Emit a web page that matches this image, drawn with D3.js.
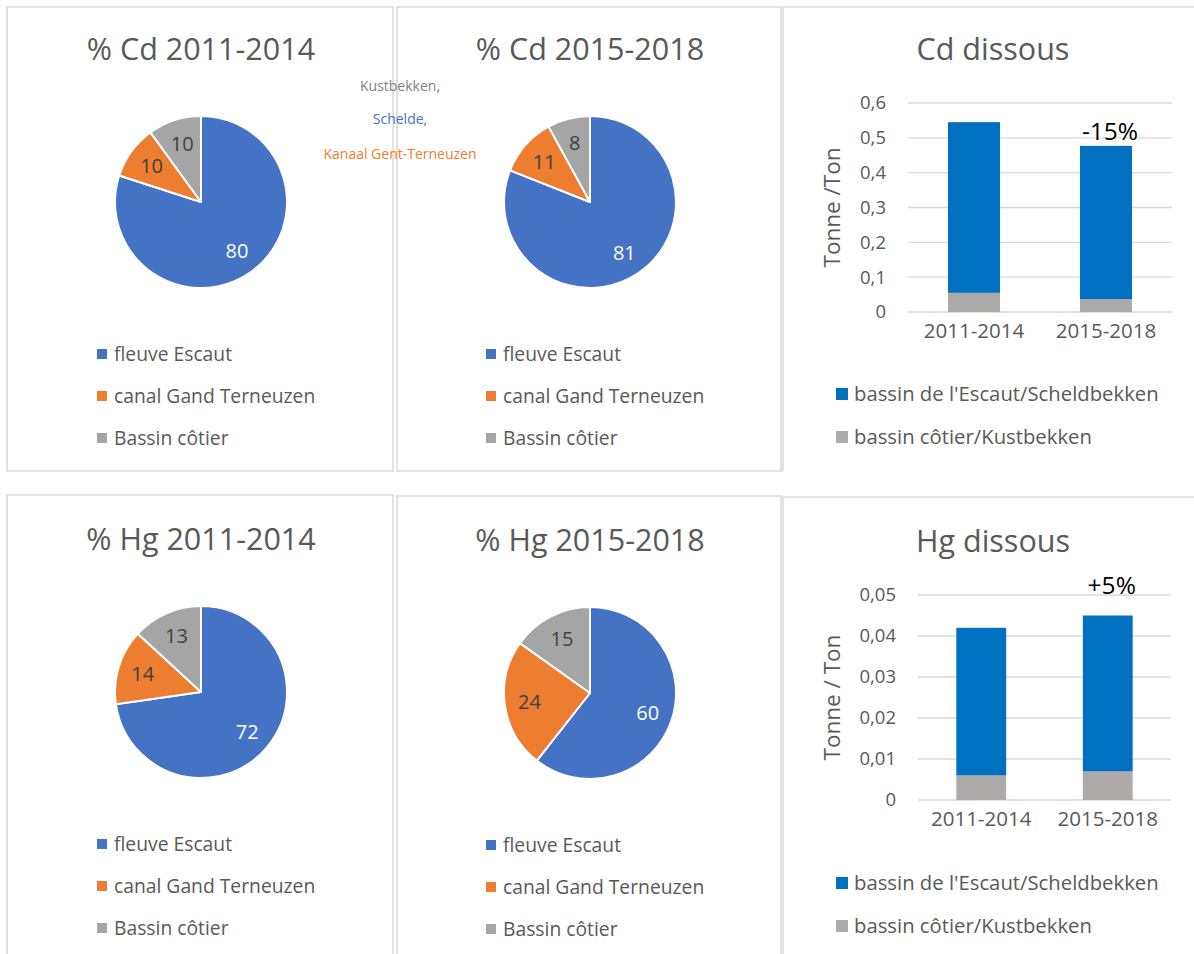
<!DOCTYPE html>
<html>
<head>
<meta charset="utf-8">
<script src="https://cdn.jsdelivr.net/npm/d3@7"></script>
<style>
  body { margin: 0; background: #fff; }
  text { font-family: "Open Sans", "Noto Sans", sans-serif; }
</style>
</head>
<body>
<svg id="chart" width="1194" height="954"></svg>
<script>
// pie data (percent)
const pieLegend = ['fleuve Escaut', 'canal Gand Terneuzen', 'Bassin côtier'];
const cd2011 = [80, 10, 10];
const cd2015 = [81, 11, 8];
const hg2011 = [72, 14, 13];
const hg2015 = [60, 24, 15];
const floatLabels = ['Kustbekken', 'Schelde', 'Kanaal Gent-Terneuzen'];

// bar data (tonnes)
const periods = ['2011-2014', '2015-2018'];
const barLegend = ["bassin de l'Escaut/Scheldbekken", 'bassin côtier/Kustbekken'];
const cdEscaut = [0.49, 0.44];
const cdCotier = [0.055, 0.037];
const hgEscaut = [0.036, 0.038];
const hgCotier = [0.006, 0.007];
const cdTicks = [0, 0.1, 0.2, 0.3, 0.4, 0.5, 0.6];
const hgTicks = [0, 0.01, 0.02, 0.03, 0.04, 0.05];
const cdChange = ['', '-15%'];
const hgChange = ['', '+5%'];

const pieColors = ['#4472c4', '#ed7d31', '#a5a5a5'];
const barColors = ['#0070c0', '#aeaaaa'];
const textGrey = '#595959';

const svg = d3.select('#chart');
const fmt = d => String(d).replace('.', ',');

// panel frames (the right-hand ones run off the picture)
const frames = [
  'M7,7H393V471H7Z',
  'M397,7H781V471H397Z',
  'M783,471V7H1200',
  'M7,960V495H393V960',
  'M397,960V496H781V960',
  'M783,960V497H1200'
];
svg.append('g').selectAll('path').data(frames).enter().append('path')
  .attr('d', d => d)
  .attr('fill', 'none').attr('stroke', '#d9d9d9').attr('stroke-width', 1.5);

function drawPie(title, values, cx, cy) {
  const r = 86;
  const g = svg.append('g');

  g.append('text').attr('x', cx).attr('y', cy - 142)
    .attr('text-anchor', 'middle').attr('font-size', 30.5).attr('fill', textGrey)
    .text(title);

  const pie = d3.pie().sort(null).startAngle(0).endAngle(2 * Math.PI);
  const arcs = pie(values);
  const arc = d3.arc().innerRadius(0).outerRadius(r);
  const labelArc = d3.arc().innerRadius(r * 0.71).outerRadius(r * 0.71);

  const pg = g.append('g').attr('transform', `translate(${cx},${cy})`);
  pg.selectAll('path').data(arcs).enter().append('path')
    .attr('d', arc)
    .attr('fill', (d, i) => pieColors[i])
    .attr('stroke', '#fff').attr('stroke-width', 2).attr('stroke-linejoin', 'round');

  pg.selectAll('text').data(arcs).enter().append('text')
    .attr('transform', d => `translate(${labelArc.centroid(d)})`)
    .attr('text-anchor', 'middle').attr('dy', '0.35em')
    .attr('font-size', 20)
    .attr('fill', (d, i) => i === 0 ? '#fff' : '#404040')
    .text(d => d.data);

  const lg = g.append('g').attr('transform', `translate(${cx - 104},${cy + 152})`);
  const item = lg.selectAll('g').data(pieLegend).enter().append('g')
    .attr('transform', (d, i) => `translate(0,${i * 42})`);
  item.append('rect').attr('x', 0).attr('y', -5).attr('width', 10).attr('height', 10)
    .attr('fill', (d, i) => pieColors[i]);
  item.append('text').attr('x', 17).attr('dy', '0.35em')
    .attr('font-size', 19.3).attr('fill', textGrey).text(d => d);
}

function drawBars(opts) {
  const { title, top, bottom, left, right, ticks, max, escaut, cotier, change, changeGap,
    yTitle, titleY, legendY } = opts;
  const g = svg.append('g');

  g.append('text').attr('x', 993).attr('y', titleY)
    .attr('text-anchor', 'middle').attr('font-size', 30.5).attr('fill', textGrey)
    .text(title);

  const x = d3.scaleBand().domain(periods).range([left, right])
    .paddingInner(0.606).paddingOuter(0.303);
  const y = d3.scaleLinear().domain([0, max]).range([bottom, top]);

  // gridlines
  g.append('g').selectAll('line').data(ticks).enter().append('line')
    .attr('x1', left).attr('x2', right)
    .attr('y1', d => y(d)).attr('y2', d => y(d))
    .attr('stroke', '#d9d9d9').attr('stroke-width', 1.3);

  const yAxis = g.append('g').attr('transform', `translate(${left - 22},0)`)
    .call(d3.axisLeft(y).tickValues(ticks).tickFormat(fmt).tickSize(0).tickPadding(0));
  yAxis.select('.domain').remove();
  yAxis.selectAll('text').attr('font-size', 18.5).attr('fill', textGrey)
    .style('font-family', '"Open Sans", sans-serif');

  const rows = periods.map((p, i) => ({ period: p, escaut: escaut[i], cotier: cotier[i] }));
  const stacked = d3.stack().keys(['cotier', 'escaut'])(rows);

  g.append('g').selectAll('g').data(stacked).enter().append('g')
    .attr('fill', (d, i) => barColors[1 - i])
    .selectAll('rect').data(d => d).enter().append('rect')
    .attr('x', d => x(d.data.period))
    .attr('y', d => y(d[1]))
    .attr('width', x.bandwidth())
    .attr('height', d => y(d[0]) - y(d[1]));

  // change labels
  g.append('g').selectAll('text').data(rows).enter().append('text')
    .attr('x', d => x(d.period) + x.bandwidth() / 2 + 4)
    .attr('y', d => y(d.escaut + d.cotier) - changeGap)
    .attr('text-anchor', 'middle').attr('font-size', 24.5).attr('fill', '#000')
    .text((d, i) => change[i]);

  const xAxis = g.append('g').attr('transform', `translate(0,${bottom + 11})`)
    .call(d3.axisBottom(x).tickSize(0).tickPadding(0));
  xAxis.select('.domain').remove();
  xAxis.selectAll('text').attr('font-size', 20.5).attr('fill', textGrey).attr('dy', '0.71em')
    .style('font-family', '"Open Sans", sans-serif');

  g.append('text')
    .attr('transform', `translate(840,${(top + bottom) / 2}) rotate(-90)`)
    .attr('text-anchor', 'middle').attr('font-size', 22.5).attr('fill', textGrey)
    .text(yTitle);

  const lg = g.append('g').attr('transform', `translate(836,${legendY})`);
  const item = lg.selectAll('g').data(barLegend).enter().append('g')
    .attr('transform', (d, i) => `translate(0,${i * 43})`);
  item.append('rect').attr('x', 0).attr('y', -6).attr('width', 12).attr('height', 12)
    .attr('fill', (d, i) => barColors[i]);
  item.append('text').attr('x', 18).attr('dy', '0.35em')
    .attr('font-size', 20.3).attr('fill', textGrey).text(d => d);
}

drawPie('% Cd 2011-2014', cd2011, 201, 202);
drawPie('% Cd 2015-2018', cd2015, 590, 202);
drawPie('% Hg 2011-2014', hg2011, 201, 692);
drawPie('% Hg 2015-2018', hg2015, 590, 693);

// stray data labels between the two top pies
const floatColors = ['#7f7f7f', '#4472c4', '#ed7d31'];
const fl = svg.append('g').selectAll('text').data(floatLabels).enter().append('text')
  .attr('x', 400).attr('y', (d, i) => [91, 124, 159][i])
  .attr('text-anchor', 'middle').attr('font-size', 14)
  .attr('fill', (d, i) => floatColors[i]);
fl.append('tspan').text(d => d);
fl.filter((d, i) => i < 2).append('tspan').attr('fill', '#4472c4').text(',');

drawBars({
  title: 'Cd dissous', top: 103, bottom: 312, left: 908, right: 1172,
  ticks: cdTicks, max: 0.6, escaut: cdEscaut, cotier: cdCotier, change: cdChange, changeGap: 6,
  yTitle: 'Tonne /Ton', titleY: 60, legendY: 394
});
drawBars({
  title: 'Hg dissous', top: 595, bottom: 800, left: 918, right: 1171,
  ticks: hgTicks, max: 0.05, escaut: hgEscaut, cotier: hgCotier, change: hgChange, changeGap: 22,
  yTitle: 'Tonne / Ton', titleY: 552, legendY: 883
});
</script>
</body>
</html>
